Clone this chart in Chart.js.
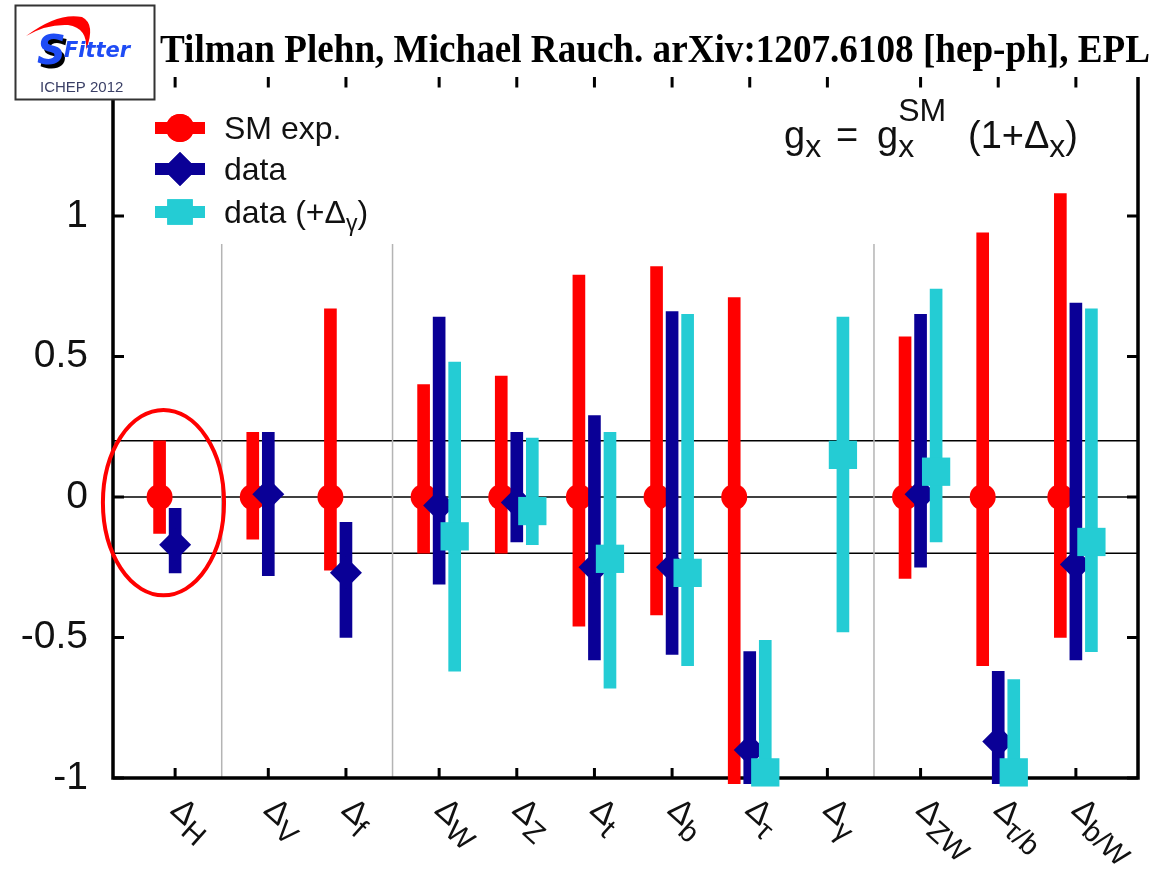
<!DOCTYPE html>
<html>
<head>
<meta charset="utf-8">
<script src="https://cdn.jsdelivr.net/npm/chart.js@4.4.1/dist/chart.umd.min.js"></script>
<style>
  html, body { margin: 0; padding: 0; background: #fff; }
  #wrap { width: 1169px; height: 881px; }
</style>
</head>
<body>
<div id="wrap"><canvas id="chart" width="1169" height="881"></canvas></div>
<script>
// coupling deviations, one column per Delta_x
const categories = ['H', 'V', 'f', 'W', 'Z', 't', 'b', 'τ', 'γ', 'ZW', 'τ/b', 'b/W'];
const xValues = [1.0, 2.2, 3.2, 4.4, 5.4, 6.4, 7.4, 8.4, 9.4, 10.6, 11.6, 12.6];

// SM expectation (central value 0)
const smValue = [0, 0, 0, 0, 0, 0, 0, 0, null, 0, 0, 0];
const smLow = [-0.13, -0.15, -0.26, -0.20, -0.20, -0.46, -0.42, -1.02, null, -0.29, -0.60, -0.50];
const smHigh = [0.20, 0.23, 0.67, 0.40, 0.43, 0.79, 0.82, 0.71, null, 0.57, 0.94, 1.08];

// data
const dataValue = [-0.17, 0.01, -0.27, -0.03, -0.02, -0.25, -0.25, -0.90, null, 0.01, -0.87, -0.24];
const dataLow = [-0.27, -0.28, -0.50, -0.31, -0.16, -0.58, -0.56, -1.02, null, -0.25, -1.02, -0.58];
const dataHigh = [-0.04, 0.23, -0.09, 0.64, 0.23, 0.29, 0.66, -0.55, null, 0.65, -0.62, 0.69];

// data (+Delta_gamma)
const gammaValue = [null, null, null, -0.14, -0.05, -0.22, -0.27, -0.98, 0.15, 0.09, -0.98, -0.16];
const gammaLow = [null, null, null, -0.62, -0.17, -0.68, -0.60, -1.02, -0.48, -0.16, -1.02, -0.55];
const gammaHigh = [null, null, null, 0.48, 0.21, 0.23, 0.65, -0.51, 0.64, 0.74, -0.65, 0.67];

const yTicks = [-1, -0.5, 0, 0.5, 1];
const yTickLabels = ['-1', '-0.5', '0', '0.5', '1'];
const refLines = [0.2, 0, -0.2];
const separators = [1.6, 3.8, 10.0];

const RED = '#ff0000';
const BLUE = '#0a0096';
const CYAN = '#24ccd4';
const SHIFT = 0.2;

function bars(lo, hi, shift) {
  const out = [];
  xValues.forEach((x, i) => {
    if (lo[i] !== null) out.push({ x: x + shift, y: [lo[i], hi[i]] });
  });
  return out;
}

function points(v, shift) {
  const out = [];
  xValues.forEach((x, i) => {
    if (v[i] !== null) out.push({ x: x + shift, y: v[i] });
  });
  return out;
}

function barSet(lo, hi, shift, color, order) {
  return {
    type: 'bar', data: bars(lo, hi, shift), backgroundColor: color,
    borderWidth: 0, grouped: false, barPercentage: 1, categoryPercentage: 1,
    maxBarThickness: 12, order: order, clip: false
  };
}

function pointSet(v, shift, color, style, radius, order) {
  return {
    type: 'scatter', data: points(v, shift), backgroundColor: color,
    borderWidth: 0, pointStyle: style, pointRadius: radius, pointHoverRadius: radius,
    order: order, clip: false
  };
}

const backdrop = {
  id: 'backdrop',
  beforeDatasetsDraw(chart) {
    const { ctx, chartArea: a, scales: { x, y } } = chart;
    ctx.save();
    // thin reference lines
    ctx.strokeStyle = '#000';
    ctx.lineWidth = 1.5;
    refLines.forEach(v => {
      const py = y.getPixelForValue(v);
      ctx.beginPath(); ctx.moveTo(a.left, py); ctx.lineTo(a.right, py); ctx.stroke();
    });
    // group separators
    ctx.strokeStyle = '#b4b4b4';
    ctx.lineWidth = 1.5;
    separators.forEach(v => {
      const px = x.getPixelForValue(v);
      ctx.beginPath(); ctx.moveTo(px, y.getPixelForValue(0.9)); ctx.lineTo(px, a.bottom); ctx.stroke();
    });
    // frame
    ctx.strokeStyle = '#000';
    ctx.lineWidth = 3.5;
    ctx.beginPath();
    ctx.moveTo(a.left, a.top); ctx.lineTo(a.left, a.bottom);
    ctx.lineTo(a.right, a.bottom); ctx.lineTo(a.right, a.top);
    ctx.stroke();
    // inward ticks
    ctx.lineWidth = 3;
    yTicks.forEach(v => {
      const py = y.getPixelForValue(v);
      ctx.beginPath();
      ctx.moveTo(a.left, py); ctx.lineTo(a.left + 11, py);
      ctx.moveTo(a.right, py); ctx.lineTo(a.right - 11, py);
      ctx.stroke();
    });
    xValues.forEach(v => {
      const px = x.getPixelForValue(v);
      ctx.beginPath(); ctx.moveTo(px, a.bottom); ctx.lineTo(px, a.bottom - 10); ctx.stroke();
    });
    ctx.restore();
  }
};

function drawRuns(ctx, x, baseline, runs) {
  runs.forEach(r => {
    ctx.font = r.font;
    ctx.fillText(r.t, x + (r.dx || 0), baseline + (r.dy || 0));
    if (!r.keep) x += ctx.measureText(r.t).width + (r.dx || 0);
  });
  return x;
}

const overlay = {
  id: 'overlay',
  afterDraw(chart) {
    const { ctx, chartArea: a, scales: { x, y } } = chart;
    ctx.save();

    // title strip
    ctx.fillStyle = '#fff';
    ctx.fillRect(0, 0, 1169, a.top + 1.5);
    ctx.fillStyle = '#000';
    const title = 'Tilman Plehn, Michael Rauch. arXiv:1207.6108 [hep-ph], EPL';
    ctx.font = 'bold 41px "Liberation Serif"';
    const tw = ctx.measureText(title).width;
    ctx.save();
    ctx.translate(160, 62);
    ctx.scale(990 / tw, 1);
    ctx.textBaseline = 'alphabetic';
    ctx.fillText(title, 0, 0);
    ctx.restore();

    // top ticks
    ctx.strokeStyle = '#000';
    ctx.lineWidth = 3;
    xValues.forEach(v => {
      const px = x.getPixelForValue(v);
      ctx.beginPath(); ctx.moveTo(px, a.top + 1.5); ctx.lineTo(px, a.top + 12); ctx.stroke();
    });

    // logo box
    ctx.fillStyle = '#fff';
    ctx.fillRect(15, 5, 140, 95);
    ctx.strokeStyle = '#333';
    ctx.lineWidth = 2;
    ctx.strokeRect(15.5, 5.5, 139, 94);
    ctx.save();
    ctx.beginPath(); ctx.rect(17, 7, 118, 90); ctx.clip();
    ctx.fillStyle = RED;
    ctx.beginPath();
    ctx.moveTo(26, 36);
    ctx.quadraticCurveTo(58, 12, 82, 17);
    ctx.quadraticCurveTo(96, 24, 86, 50);
    ctx.quadraticCurveTo(88, 28, 68, 25);
    ctx.quadraticCurveTo(46, 24, 26, 36);
    ctx.fill();
    ctx.font = 'italic bold 40px "DejaVu Sans"';
    ctx.fillStyle = '#000';
    ctx.fillText('S', 40, 68);
    ctx.fillStyle = '#1f4cf5';
    ctx.fillText('S', 37, 64);
    ctx.font = 'italic bold 21px "DejaVu Sans"';
    ctx.fillText('Fitter', 64, 57);
    ctx.restore();
    ctx.font = '15px "Liberation Sans"';
    ctx.fillStyle = '#3a3f66';
    ctx.fillText('ICHEP 2012', 40, 92);

    // legend
    const legend = [
      { color: RED, style: 'circle', r: 14, label: [{ t: 'SM exp.' }] },
      { color: BLUE, style: 'rectRot', r: 17, label: [{ t: 'data' }] },
      { color: CYAN, style: 'rect', r: 18, label: [{ t: 'data (+Δ' }, { t: 'γ', small: true }, { t: ')' }] }
    ];
    const legendY = [128, 169, 212];
    legend.forEach((it, i) => {
      const ly = legendY[i];
      ctx.fillStyle = it.color;
      ctx.fillRect(155, ly - 6, 50, 12);
      Chart.helpers.drawPoint(ctx, { pointStyle: it.style, radius: it.r, rotation: 0, borderWidth: 0 }, 180, ly);
      ctx.fill();
      ctx.fillStyle = '#111';
      ctx.textBaseline = 'alphabetic';
      drawRuns(ctx, 224, ly + 11, it.label.map(p => ({
        t: p.t,
        font: p.small ? '23px "Liberation Sans"' : '32px "Liberation Sans"',
        dy: p.small ? 8 : 0
      })));
    });

    // formula g_x = g_x^SM (1+Delta_x)
    ctx.fillStyle = '#111';
    const big = '38px "Liberation Sans"';
    const sub = '32px "Liberation Sans"';
    drawRuns(ctx, 784, 148, [{ t: 'g', font: big }, { t: 'x', font: sub, dy: 9 }]);
    drawRuns(ctx, 836, 148, [{ t: '=', font: big }]);
    drawRuns(ctx, 877, 148, [
      { t: 'g', font: big }, { t: 'SM', font: sub, dy: -27, keep: true },
      { t: 'x', font: sub, dy: 9 }
    ]);
    drawRuns(ctx, 968, 148, [
      { t: '(1+Δ', font: big }, { t: 'x', font: sub, dy: 9 }, { t: ')', font: big }
    ]);

    // x labels
    ctx.fillStyle = '#111';
    categories.forEach((c, i) => {
      const px = x.getPixelForValue(xValues[i]);
      ctx.save();
      ctx.translate(px - 6, 812);
      ctx.rotate(42 * Math.PI / 180);
      ctx.font = '33px "Liberation Sans"';
      ctx.fillText('Δ', 0, 0);
      const w = ctx.measureText('Δ').width;
      ctx.font = '29px "Liberation Sans"';
      ctx.fillText(c, w, 9);
      ctx.restore();
    });

    // highlight ellipse
    ctx.strokeStyle = RED;
    ctx.lineWidth = 4;
    const cx = x.getPixelForValue(0.85), cy = y.getPixelForValue(-0.02);
    const rx = x.getPixelForValue(0.85 + 0.78) - cx, ry = cy - y.getPixelForValue(-0.02 + 0.33);
    ctx.beginPath(); ctx.ellipse(cx, cy, rx, ry, 0, 0, Math.PI * 2); ctx.stroke();

    ctx.restore();
  }
};

new Chart(document.getElementById('chart'), {
  type: 'scatter',
  data: {
    datasets: [
      barSet(smLow, smHigh, -SHIFT, RED, 6),
      pointSet(smValue, -SHIFT, RED, 'circle', 13, 5),
      barSet(dataLow, dataHigh, 0, BLUE, 4),
      pointSet(dataValue, 0, BLUE, 'rectRot', 16, 3),
      barSet(gammaLow, gammaHigh, SHIFT, CYAN, 2),
      pointSet(gammaValue, SHIFT, CYAN, 'rect', 20, 1)
    ]
  },
  options: {
    responsive: false,
    animation: false,
    devicePixelRatio: 1,
    layout: { padding: { left: 0, top: 75.5, right: 31, bottom: 103 } },
    plugins: { legend: { display: false }, tooltip: { enabled: false } },
    scales: {
      x: { type: 'linear', min: 0.2, max: 13.4, offset: false, display: false, grid: { offset: false } },
      y: {
        type: 'linear', min: -1, max: 1.5,
        afterFit: s => { s.width = 113; },
        afterBuildTicks: s => { s.ticks = yTicks.map(v => ({ value: v })); },
        grid: { display: false, drawTicks: false },
        border: { display: false },
        ticks: {
          padding: 25, color: '#111',
          font: { family: 'Liberation Sans', size: 39 },
          callback: v => yTickLabels[yTicks.indexOf(v)]
        }
      }
    }
  },
  plugins: [backdrop, overlay]
});
</script>
</body>
</html>
